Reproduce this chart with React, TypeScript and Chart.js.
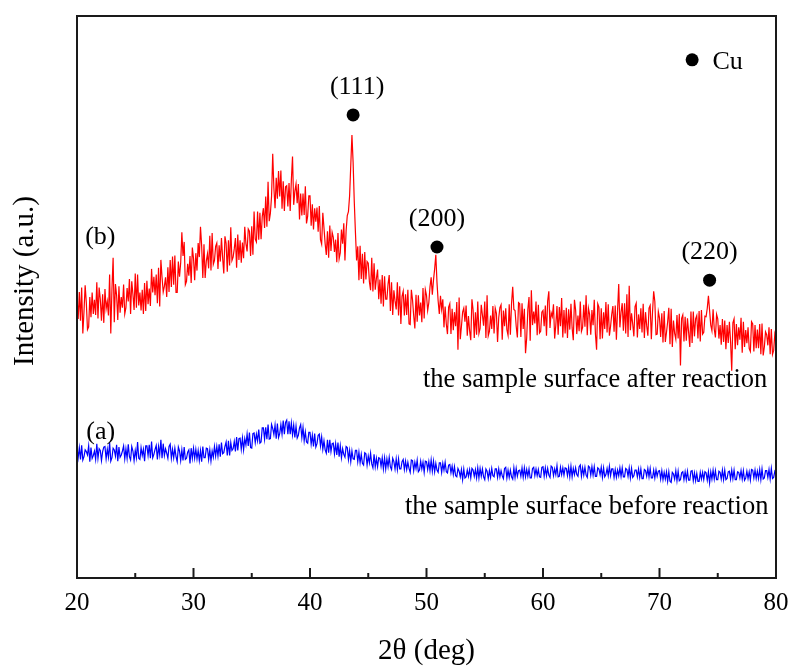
import React, { useEffect, useRef } from 'react';
import { Chart, registerables } from 'chart.js';

Chart.register(...registerables);

// 2θ sampling: 20° to 80°, 0.1° step (601 points)
const ANGLE_START = 20;
const ANGLE_STEP = 0.1;

// (b) the sample surface after reaction (a.u.), one row per 2°
const afterReaction = [
  50.1, 46.1, 50.9, 45.8, 51.7, 43.5, 47.4, 52.1, 49.0, 44.2, 44.7, 50.0, 46.4, 50.8, 47.0, 49.5, 46.8, 52.6, 46.2, 51.7,
  49.6, 45.8, 50.5, 45.4, 51.4, 47.9, 49.2, 46.7, 54.0, 43.5, 51.4, 57.0, 45.5, 52.3, 50.3, 45.9, 51.9, 47.2, 50.0, 48.1,
  52.2, 47.0, 48.1, 51.6, 49.2, 53.2, 47.0, 52.8, 50.5, 47.7, 54.2, 48.1, 54.0, 48.5, 50.8, 47.6, 51.3, 47.0, 52.5, 47.5,
  52.9, 48.7, 51.5, 48.4, 55.0, 50.8, 53.6, 50.3, 54.0, 48.9, 55.2, 48.3, 56.6, 53.5, 50.9, 51.9, 53.5, 50.0, 55.3, 50.9,
  56.6, 51.8, 57.2, 52.2, 57.4, 50.8, 50.8, 56.3, 53.6, 56.1, 61.5, 57.3, 59.8, 52.2, 52.8, 55.9, 53.8, 57.3, 52.5, 58.8,
  56.9, 53.0, 57.8, 54.7, 59.6, 57.1, 62.5, 59.1, 53.4, 59.4, 53.4, 56.4, 57.7, 55.1, 60.9, 54.7, 61.4, 55.8, 56.5, 59.0,
  59.6, 55.0, 59.2, 56.3, 60.5, 57.0, 54.2, 60.8, 59.5, 54.5, 60.1, 55.6, 62.4, 56.5, 57.1, 58.6, 60.5, 55.2, 61.1, 56.6,
  60.1, 56.1, 59.7, 56.9, 62.5, 59.5, 58.1, 62.1, 61.7, 57.3, 62.6, 57.5, 65.2, 60.3, 59.8, 65.2, 60.2, 65.0, 60.3, 64.3,
  65.8, 62.3, 67.9, 62.5, 70.5, 63.5, 64.9, 67.9, 75.5, 69.4, 65.8, 71.2, 67.5, 72.4, 67.9, 72.5, 65.7, 70.6, 65.3, 69.6,
  69.8, 66.1, 70.3, 65.3, 70.8, 75.0, 66.4, 68.8, 70.1, 66.7, 70.1, 63.8, 68.4, 64.5, 68.4, 64.6, 69.7, 63.1, 64.4, 68.0,
  68.0, 62.7, 66.5, 62.0, 65.8, 63.4, 65.9, 61.6, 66.2, 60.2, 59.4, 65.0, 62.3, 59.5, 57.5, 61.7, 57.0, 62.7, 58.2, 61.5,
  60.6, 58.0, 60.2, 56.2, 61.4, 56.8, 57.9, 62.0, 59.5, 63.1, 56.5, 61.8, 64.5, 65.2, 68.0, 73.5, 78.8, 74.0, 67.0, 61.5,
  56.5, 59.0, 53.0, 59.1, 53.2, 57.7, 52.4, 58.0, 53.1, 56.3, 56.0, 52.7, 51.2, 57.0, 51.0, 56.0, 51.3, 53.3, 54.9, 49.6,
  53.1, 48.8, 53.9, 48.3, 53.7, 49.6, 49.6, 52.3, 53.9, 47.5, 52.6, 46.8, 51.2, 49.3, 47.8, 52.6, 46.7, 51.9, 45.2, 50.1,
  51.0, 46.7, 50.5, 46.8, 51.3, 45.2, 45.1, 51.3, 49.5, 46.7, 44.4, 50.4, 45.6, 50.3, 46.7, 49.0, 45.5, 51.6, 46.2, 51.3,
  50.3, 47.6, 49.0, 51.8, 53.5, 50.4, 53.0, 55.0, 57.5, 52.6, 49.3, 47.0, 50.2, 47.8, 49.6, 44.6, 48.3, 45.2, 43.4, 48.2,
  48.8, 43.4, 47.9, 44.1, 47.3, 44.8, 49.1, 40.6, 49.9, 42.5, 44.8, 47.3, 48.0, 45.6, 48.5, 43.1, 46.6, 44.0, 42.3, 49.6,
  47.7, 42.7, 47.3, 43.3, 49.2, 43.5, 44.4, 48.6, 46.8, 44.9, 49.2, 42.7, 50.3, 43.1, 43.9, 46.7, 44.3, 48.4, 43.5, 48.0,
  47.1, 42.0, 46.3, 48.1, 48.6, 42.4, 47.6, 44.8, 48.0, 44.2, 43.2, 48.7, 43.3, 48.9, 51.8, 47.8, 47.6, 44.8, 42.8, 49.0,
  48.8, 42.9, 48.9, 44.3, 47.9, 40.0, 42.7, 47.8, 50.0, 42.2, 51.2, 45.0, 47.4, 45.3, 49.2, 43.2, 48.6, 43.6, 43.9, 47.3,
  47.6, 44.8, 48.5, 43.1, 49.3, 51.0, 44.5, 47.2, 46.5, 48.7, 42.6, 45.0, 48.4, 43.3, 48.2, 44.8, 49.8, 42.8, 47.7, 43.5,
  48.1, 42.7, 47.8, 44.2, 48.8, 44.5, 42.3, 49.5, 47.7, 43.4, 46.7, 43.9, 49.2, 43.9, 44.6, 48.6, 44.7, 50.3, 43.2, 48.0,
  46.9, 43.3, 47.7, 45.0, 49.5, 43.4, 40.6, 48.8, 48.2, 42.5, 48.0, 42.6, 47.3, 44.3, 49.1, 43.7, 48.7, 43.1, 44.8, 46.9,
  48.4, 43.8, 48.5, 42.4, 47.7, 52.3, 44.6, 47.3, 48.9, 44.0, 48.9, 43.5, 50.5, 42.9, 52.0, 44.1, 47.1, 45.2, 43.0, 48.3,
  48.9, 42.8, 46.9, 44.3, 48.0, 43.7, 48.8, 42.7, 47.3, 44.9, 43.1, 48.0, 48.5, 42.5, 47.3, 51.0, 49.2, 43.3, 43.4, 47.4,
  46.3, 42.9, 47.1, 41.9, 47.5, 42.0, 43.7, 45.6, 48.1, 41.6, 47.9, 41.1, 45.8, 43.5, 42.5, 46.8, 42.6, 47.0, 37.8, 46.2,
  46.8, 42.1, 46.5, 42.2, 46.2, 43.7, 41.1, 47.4, 41.8, 47.4, 43.0, 46.1, 46.7, 42.6, 47.5, 42.1, 47.7, 43.4, 43.7, 46.6,
  46.5, 48.0, 50.2, 47.6, 45.0, 44.0, 47.8, 44.3, 42.8, 46.9, 46.1, 42.6, 45.0, 41.5, 46.1, 42.0, 45.8, 40.7, 45.0, 41.8,
  45.6, 42.1, 36.9, 45.4, 46.1, 40.7, 45.2, 41.4, 44.6, 42.4, 46.3, 40.1, 45.6, 41.1, 44.1, 41.8, 44.6, 40.8, 40.3, 45.6,
  45.2, 40.3, 45.0, 40.9, 44.2, 40.9, 45.2, 39.8, 45.3, 39.6, 41.1, 43.8, 43.3, 41.4, 44.6, 39.8, 44.3, 39.8, 40.5, 43.4,
  42.5,
];

// (a) the sample surface before reaction (a.u.), one row per 2°
const beforeReaction = [
  23.1, 21.4, 23.2, 21.1, 23.6, 21.0, 21.6, 22.8, 22.5, 21.9, 23.5, 20.7, 23.2, 21.3, 21.8, 22.6, 21.1, 23.9, 21.3, 23.0,
  22.7, 20.9, 22.5, 23.3, 23.4, 21.2, 22.9, 21.5, 24.1, 20.8, 21.4, 23.1, 22.8, 21.7, 23.7, 20.8, 23.3, 21.5, 21.9, 22.6,
  23.5, 21.2, 23.0, 21.3, 23.8, 21.6, 21.0, 23.4, 22.6, 20.9, 22.7, 21.4, 24.2, 21.3, 21.1, 23.2, 21.8, 22.9, 20.8, 23.5,
  23.5, 21.8, 23.7, 21.3, 24.3, 21.4, 22.0, 22.9, 23.6, 21.1, 23.4, 21.9, 24.6, 21.3, 23.9, 21.8, 23.0, 22.2, 21.3, 23.4,
  23.8, 21.3, 22.9, 21.4, 23.1, 21.6, 20.7, 23.3, 22.6, 20.9, 22.8, 20.9, 23.3, 21.1, 21.3, 22.4, 22.8, 20.4, 23.1, 21.3,
  23.1, 21.3, 22.9, 21.2, 22.7, 20.9, 22.7, 20.7, 23.4, 21.4, 21.4, 23.1, 23.0, 21.1, 22.8, 20.8, 22.6, 21.5, 23.4, 21.7,
  23.4, 21.7, 23.8, 21.6, 24.1, 22.1, 22.3, 23.4, 24.2, 21.8, 24.4, 21.8, 24.1, 22.7, 23.0, 24.3, 22.5, 25.1, 22.7, 24.8,
  24.9, 22.9, 24.9, 22.8, 24.8, 23.7, 25.6, 23.5, 25.9, 23.2, 23.1, 25.7, 25.8, 24.1, 25.6, 24.4, 26.4, 24.0, 24.2, 26.7,
  26.7, 24.7, 26.8, 24.7, 27.3, 24.7, 24.8, 27.3, 26.6, 25.5, 27.2, 24.8, 27.5, 25.0, 25.7, 27.3, 25.6, 28.0, 25.6, 27.7,
  28.1, 25.6, 27.9, 25.6, 27.6, 25.5, 27.2, 25.0, 27.0, 24.9, 25.4, 26.7, 27.3, 25.0, 26.8, 24.4, 26.0, 24.2, 24.0, 25.9,
  25.9, 23.8, 25.4, 23.4, 25.7, 23.3, 23.9, 25.4, 25.6, 23.5, 25.1, 22.9, 24.4, 22.8, 22.2, 24.6, 22.3, 24.6, 22.5, 23.9,
  24.0, 22.1, 23.9, 21.9, 24.1, 21.6, 23.5, 21.4, 23.0, 22.0, 21.5, 23.4, 23.2, 21.1, 22.7, 20.7, 22.6, 21.2, 21.1, 22.7,
  22.7, 20.7, 22.4, 20.5, 22.0, 20.4, 20.1, 22.3, 22.1, 20.1, 21.7, 20.5, 22.2, 20.3, 19.6, 22.0, 19.8, 21.3, 19.8, 21.4,
  21.3, 19.9, 21.4, 19.4, 21.4, 19.4, 21.2, 19.8, 21.5, 19.8, 19.3, 21.3, 20.7, 19.4, 21.2, 19.3, 21.2, 19.4, 19.4, 20.7,
  21.1, 19.3, 20.8, 19.3, 20.6, 19.5, 18.8, 21.0, 20.9, 19.1, 20.6, 19.5, 21.0, 18.9, 19.2, 20.8, 19.4, 20.6, 18.8, 20.8,
  20.7, 19.3, 20.7, 19.1, 21.0, 19.0, 20.8, 18.9, 20.4, 19.2, 18.8, 20.5, 20.5, 18.8, 20.4, 19.2, 20.6, 18.9, 18.7, 20.1,
  20.2, 18.7, 19.9, 18.4, 19.8, 18.2, 18.0, 19.5, 19.0, 18.0, 19.3, 17.5, 19.4, 17.8, 18.0, 19.2, 18.1, 19.3, 17.8, 19.5,
  19.2, 18.1, 19.3, 17.8, 19.6, 17.8, 19.5, 18.1, 19.4, 18.0, 17.5, 19.4, 19.0, 17.7, 19.1, 17.9, 19.5, 18.2, 18.0, 19.4,
  19.4, 17.9, 19.4, 18.0, 19.1, 18.2, 17.7, 19.5, 19.7, 17.8, 19.2, 17.9, 19.2, 18.0, 17.6, 19.6, 17.9, 19.5, 18.1, 19.1,
  19.2, 18.1, 19.6, 17.9, 19.6, 18.0, 19.3, 18.1, 19.4, 17.8, 17.8, 19.5, 19.7, 18.2, 19.4, 18.2, 19.3, 18.0, 17.9, 19.7,
  19.8, 18.1, 19.6, 18.2, 19.5, 18.3, 17.9, 19.9, 19.7, 18.2, 19.4, 18.4, 20.0, 18.0, 18.1, 19.7, 18.4, 19.6, 18.3, 19.6,
  19.5, 18.2, 19.7, 18.0, 19.9, 18.0, 19.5, 18.4, 19.6, 18.4, 18.1, 19.8, 20.1, 18.1, 19.6, 18.3, 19.7, 18.3, 17.9, 19.9,
  19.7, 18.3, 19.8, 18.3, 19.8, 18.1, 18.1, 19.6, 19.4, 18.4, 19.7, 17.9, 19.6, 18.0, 18.4, 19.5, 18.2, 19.9, 18.2, 19.4,
  19.4, 17.9, 19.3, 17.9, 19.2, 18.2, 19.6, 18.1, 19.6, 18.0, 18.0, 19.5, 19.3, 18.1, 19.6, 17.8, 19.5, 17.9, 18.2, 19.2,
  19.2, 18.0, 19.4, 17.9, 19.4, 17.7, 17.7, 19.3, 19.1, 18.1, 19.5, 18.0, 19.5, 17.8, 17.8, 19.2, 17.8, 19.3, 18.1, 19.0,
  19.1, 17.6, 19.1, 17.5, 18.8, 17.6, 18.9, 17.2, 18.9, 17.2, 17.0, 18.8, 18.5, 17.6, 19.1, 17.3, 19.0, 17.3, 17.5, 18.7,
  18.9, 17.5, 18.9, 17.5, 19.0, 17.4, 17.4, 19.0, 19.1, 17.3, 18.7, 17.3, 18.6, 17.2, 17.2, 18.8, 17.6, 18.8, 17.5, 18.9,
  18.7, 17.4, 18.9, 16.9, 18.9, 17.6, 19.2, 17.6, 19.1, 17.5, 17.5, 19.0, 18.8, 17.6, 19.2, 17.5, 19.2, 17.5, 17.7, 18.9,
  19.0, 17.6, 19.2, 17.7, 19.2, 17.5, 17.5, 18.9, 18.8, 17.8, 19.1, 17.6, 19.1, 17.4, 17.8, 19.0, 17.7, 18.9, 17.4, 19.3,
  19.2, 17.8, 19.2, 17.7, 19.0, 17.7, 19.3, 17.5, 19.4, 17.6, 17.8, 19.1, 19.1, 17.9, 19.3, 17.6, 19.5, 17.7, 17.9, 19.0,
  18.6,
];

const twoTheta = afterReaction.map((_, i) => Math.round((ANGLE_START + i * ANGLE_STEP) * 10) / 10);

// Cu reflections marked with dots
const cuPeakAngles = [43.7, 50.9, 74.3];
const cuPeakMarks = [82.4, 58.9, 53.0];
const cuPeakLabels = ['(111)', '(200)', '(220)'];

const SERIF = '"Liberation Serif", "Times New Roman", serif';

const annotPlugin = {
  id: 'xrdAnnotations',
  afterDatasetsDraw(chart: any) {
    const { ctx, chartArea: a, scales } = chart;
    const x = scales.x;
    const y = scales.y;
    ctx.save();
    // frame
    ctx.strokeStyle = '#1a1a1a';
    ctx.lineWidth = 2;
    ctx.strokeRect(a.left, a.top, a.right - a.left, a.bottom - a.top);
    // inward tick marks
    x.ticks.forEach((t: any) => {
      const px = x.getPixelForValue(t.value);
      const len = t.value % 10 === 0 ? 10 : 5;
      ctx.beginPath();
      ctx.moveTo(px, a.bottom);
      ctx.lineTo(px, a.bottom - len);
      ctx.stroke();
    });

    ctx.fillStyle = '#000';
    // peak labels
    ctx.font = `26px ${SERIF}`;
    ctx.textAlign = 'center';
    ctx.textBaseline = 'alphabetic';
    cuPeakAngles.forEach((ang, i) => {
      const px = x.getPixelForValue(ang);
      const py = y.getPixelForValue(cuPeakMarks[i]);
      ctx.fillText(cuPeakLabels[i], px + (i === 0 ? 4 : 0), py - 21);
    });

    // legend "Cu"
    ctx.textAlign = 'left';
    ctx.fillText('Cu', x.getPixelForValue(74.55), y.getPixelForValue(90.5));

    // series tags
    ctx.textBaseline = 'middle';
    ctx.fillText('(b)', x.getPixelForValue(20.7), y.getPixelForValue(60.7));
    ctx.fillText('(a)', x.getPixelForValue(20.8), y.getPixelForValue(25.9));

    // captions
    ctx.font = `26.5px ${SERIF}`;
    ctx.textAlign = 'right';
    ctx.textBaseline = 'alphabetic';
    ctx.fillText('the sample surface after reaction', x.getPixelForValue(79.25), y.getPixelForValue(34.0));
    ctx.fillText('the sample surface before reaction', x.getPixelForValue(79.35), y.getPixelForValue(11.4));

    // axis titles
    ctx.font = `29px ${SERIF}`;
    ctx.textAlign = 'center';
    ctx.textBaseline = 'alphabetic';
    ctx.fillText('2θ (deg)', (a.left + a.right) / 2, a.bottom + 81);
    ctx.translate(33, 281);
    ctx.rotate(-Math.PI / 2);
    ctx.fillText('Intensity (a.u.)', 0, 0);
    ctx.restore();
  },
};

export default function App() {
  const ref = useRef<HTMLCanvasElement | null>(null);

  useEffect(() => {
    if (!ref.current) return;
    const chart = new Chart(ref.current, {
      type: 'line',
      data: {
        datasets: [
          {
            label: 'after reaction',
            data: twoTheta.map((t, i) => ({ x: t, y: afterReaction[i] })),
            borderColor: '#ff0000',
            borderWidth: 1.2,
            pointRadius: 0,
            tension: 0,
            fill: false,
          },
          {
            label: 'before reaction',
            data: twoTheta.map((t, i) => ({ x: t, y: beforeReaction[i] })),
            borderColor: '#0000ff',
            borderWidth: 1.2,
            pointRadius: 0,
            tension: 0,
            fill: false,
          },
          {
            label: 'Cu',
            type: 'scatter',
            data: [
              ...cuPeakAngles.map((ang, i) => ({ x: ang, y: cuPeakMarks[i] })),
              { x: 72.8, y: 92.2 },
            ],
            backgroundColor: '#000',
            borderColor: '#000',
            pointRadius: 6.5,
            pointBorderWidth: 0,
            showLine: false,
          } as any,
        ],
      },
      options: {
        responsive: false,
        animation: false,
        devicePixelRatio: 1,
        layout: { padding: { top: 16, right: 14, left: 0, bottom: 0 } },
        plugins: {
          legend: { display: false },
          tooltip: { enabled: false },
        },
        scales: {
          x: {
            type: 'linear',
            min: 20,
            max: 80,
            grid: { display: false, drawTicks: false },
            border: { display: false },
            ticks: {
              stepSize: 5,
              autoSkip: false,
              maxRotation: 0,
              padding: 10,
              color: '#000',
              font: { family: SERIF, size: 25 },
              callback: (v: any) => (Number(v) % 10 === 0 ? String(v) : ''),
            },
            afterFit: (s: any) => {
              s.height = 88;
              s.paddingLeft = 0;
              s.paddingRight = 0;
            },
          },
          y: {
            type: 'linear',
            min: 0,
            max: 100,
            grid: { display: false, drawTicks: false },
            border: { display: false },
            ticks: { display: false },
            afterFit: (s: any) => {
              s.width = 77;
              s.paddingTop = 0;
              s.paddingBottom = 0;
            },
          },
        },
      },
      plugins: [annotPlugin],
    });
    return () => chart.destroy();
  }, []);

  return (
    <div style={{ position: 'fixed', left: 0, top: 0, width: 790, height: 666, background: '#fff' }}>
      <canvas ref={ref} width={790} height={666} />
    </div>
  );
}
